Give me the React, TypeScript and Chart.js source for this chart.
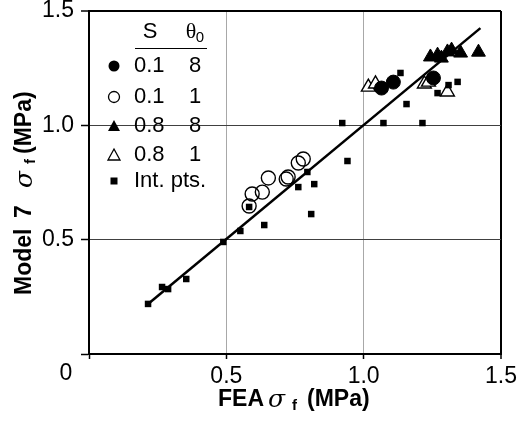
import React, { useEffect, useRef } from "react";
import { Chart, registerables } from "chart.js";
Chart.register(...registerables);

// S = 0.1, theta0 = 8 (filled circles)
const feaS01T8 = [1.065, 1.108, 1.254];
const modS01T8 = [1.163, 1.189, 1.207];
// S = 0.1, theta0 = 1 (open circles)
const feaS01T1 = [0.583, 0.594, 0.631, 0.653, 0.718, 0.725, 0.762, 0.78];
const modS01T1 = [0.647, 0.7, 0.708, 0.77, 0.765, 0.774, 0.835, 0.853];
// S = 0.8, theta0 = 8 (filled triangles)
const feaS08T8 = [1.243, 1.269, 1.283, 1.305, 1.32, 1.353, 1.418];
const modS08T8 = [1.299, 1.307, 1.294, 1.321, 1.329, 1.316, 1.32];
// S = 0.8, theta0 = 1 (open triangles)
const feaS08T1 = [1.017, 1.043, 1.221, 1.236, 1.305];
const modS08T1 = [1.167, 1.181, 1.181, 1.189, 1.146];
// Integration points (small squares)
const feaInt = [0.215, 0.266, 0.288, 0.354, 0.489, 0.551, 0.583, 0.638, 0.762, 0.795, 0.809, 0.82, 0.922, 0.941, 1.072, 1.134, 1.156, 1.214, 1.269, 1.309, 1.342];
const modInt = [0.219, 0.293, 0.284, 0.328, 0.49, 0.538, 0.643, 0.564, 0.73, 0.796, 0.612, 0.743, 1.01, 0.844, 1.01, 1.229, 1.093, 1.01, 1.141, 1.176, 1.19];
// Fit line
const lineX = [0.215, 1.425];
const lineY = [0.219, 1.425];

const xTicks = [0, 0.5, 1.0, 1.5];
const yTicks = [0, 0.5, 1.0, 1.5];

const legendRows = [
  { s: "0.1", t: "8", marker: "fcircle" },
  { s: "0.1", t: "1", marker: "ocircle" },
  { s: "0.8", t: "8", marker: "ftri" },
  { s: "0.8", t: "1", marker: "otri" },
  { s: "Int. pts.", t: "", marker: "square" },
];

const pts = (xs: number[], ys: number[]) => xs.map((x, i) => ({ x, y: ys[i] }));

const SANS = '"Liberation Sans", Arial, sans-serif';
const SERIF = '"DejaVu Serif", "Liberation Serif", serif';

type Part = { text: string; font: string; at: number; dy?: number };
function drawParts(ctx: CanvasRenderingContext2D, parts: Part[], x0: number, y0: number) {
  ctx.textAlign = "left";
  ctx.textBaseline = "middle";
  parts.forEach((p) => {
    ctx.font = p.font;
    ctx.fillText(p.text, x0 + p.at, y0 + (p.dy || 0));
  });
}

function drawMarker(ctx: CanvasRenderingContext2D, kind: string, x: number, y: number) {
  ctx.save();
  ctx.fillStyle = "#000";
  ctx.strokeStyle = "#000";
  ctx.lineWidth = 1.3;
  ctx.beginPath();
  if (kind === "fcircle" || kind === "ocircle") {
    ctx.arc(x, y, 5.5, 0, Math.PI * 2);
    if (kind === "fcircle") ctx.fill();
    else ctx.stroke();
  } else if (kind === "ftri" || kind === "otri") {
    ctx.moveTo(x, y - 6);
    ctx.lineTo(x + 6, y + 5);
    ctx.lineTo(x - 6, y + 5);
    ctx.closePath();
    if (kind === "ftri") ctx.fill();
    else ctx.stroke();
  } else {
    ctx.rect(x - 3.5, y - 3.5, 7, 7);
    ctx.fill();
  }
  ctx.restore();
}

const TITLE = `bold 23px ${SANS}`;
const SIGMA = `italic 25px ${SERIF}`;
const SUB = `bold 15px ${SANS}`;

const overlay = {
  id: "overlay",
  afterDraw(chart: any) {
    const ctx: CanvasRenderingContext2D = chart.ctx;
    ctx.save();
    ctx.fillStyle = "#000";
    // origin "0" label
    ctx.font = `23px ${SANS}`;
    ctx.textAlign = "center";
    ctx.textBaseline = "middle";
    ctx.fillText(String(xTicks[0]), 66, 374);

    // x title
    drawParts(
      ctx,
      [
        { text: "FEA", font: TITLE, at: 0 },
        { text: "σ", font: SIGMA, at: 50 },
        { text: "f", font: SUB, at: 74, dy: 6 },
        { text: "(MPa)", font: TITLE, at: 89 },
      ],
      218,
      400
    );
    // y title
    ctx.save();
    ctx.translate(25, 295);
    ctx.rotate(-Math.PI / 2);
    drawParts(
      ctx,
      [
        { text: "Model", font: TITLE, at: 0 },
        { text: "7", font: TITLE, at: 77 },
        { text: "σ", font: SIGMA, at: 107 },
        { text: "f", font: SUB, at: 131, dy: 6 },
        { text: "(MPa)", font: TITLE, at: 141 },
      ],
      0,
      0
    );
    ctx.restore();

    // legend header
    ctx.font = `22px ${SANS}`;
    ctx.textAlign = "center";
    ctx.textBaseline = "middle";
    ctx.fillText("S", 150, 32);
    ctx.font = `22px "Liberation Serif", serif`;
    ctx.fillText("θ", 191, 32);
    ctx.font = `15px ${SANS}`;
    ctx.fillText("0", 200, 38);
    ctx.strokeStyle = "#000";
    ctx.lineWidth = 1;
    ctx.beginPath();
    ctx.moveTo(135, 48.5);
    ctx.lineTo(207, 48.5);
    ctx.stroke();

    const rowY = [66, 97, 126, 155, 181];
    legendRows.forEach((r, i) => {
      const y = rowY[i];
      drawMarker(ctx, r.marker, 114, y);
      ctx.font = `22px ${SANS}`;
      ctx.textAlign = "left";
      ctx.fillStyle = "#000";
      ctx.fillText(r.s, 134, y);
      if (r.t) {
        ctx.textAlign = "center";
        ctx.fillText(r.t, 195, y);
      }
    });
    ctx.restore();
  },
};

export default function App() {
  const ref = useRef<HTMLCanvasElement>(null);
  useEffect(() => {
    document.body.style.margin = "0";
    const canvas = ref.current!;
    const gridColorX = (c: any) => {
      const v = c.tick ? c.tick.value : 0;
      if (v === 1.5) return "#000";
      if (v === 0) return "rgba(0,0,0,0)";
      return "#a8a8a8";
    };
    const gridColorY = (c: any) => {
      const v = c.tick ? c.tick.value : 0;
      if (v === 1.5) return "#000";
      if (v === 0) return "rgba(0,0,0,0)";
      return "#404040";
    };
    const chart = new Chart(canvas, {
      type: "scatter",
      data: {
        datasets: [
          {
            label: "Int. pts.",
            data: pts(feaInt, modInt),
            pointStyle: "rect",
            radius: 4.6,
            backgroundColor: "#000",
            borderColor: "#000",
            borderWidth: 0,
            order: 0,
          } as any,
          {
            label: "fit",
            data: pts(lineX, lineY),
            showLine: true,
            borderColor: "#000",
            borderWidth: 2.5,
            pointRadius: 0,
            order: 1,
          } as any,
          {
            label: "S=0.1 θ0=8",
            data: pts(feaS01T8, modS01T8),
            pointStyle: "circle",
            radius: 7,
            backgroundColor: "#000",
            borderColor: "#000",
            borderWidth: 1,
            order: 2,
          } as any,
          {
            label: "S=0.1 θ0=1",
            data: pts(feaS01T1, modS01T1),
            pointStyle: "circle",
            radius: 7,
            backgroundColor: "rgba(255,255,255,0)",
            borderColor: "#000",
            borderWidth: 1.4,
            order: 3,
          } as any,
          {
            label: "S=0.8 θ0=8",
            data: pts(feaS08T8, modS08T8),
            pointStyle: "triangle",
            radius: 8,
            backgroundColor: "#000",
            borderColor: "#000",
            borderWidth: 1,
            order: 4,
          } as any,
          {
            label: "S=0.8 θ0=1",
            data: pts(feaS08T1, modS08T1),
            pointStyle: "triangle",
            radius: 8,
            backgroundColor: "#fff",
            borderColor: "#000",
            borderWidth: 1.4,
            order: 5,
          } as any,
        ],
      },
      options: {
        responsive: false,
        animation: false,
        devicePixelRatio: 1,
        layout: { padding: { top: 11, right: 20, left: 0, bottom: 0 } },
        plugins: { legend: { display: false }, tooltip: { enabled: false } },
        scales: {
          x: {
            type: "linear",
            min: 0,
            max: 1.5,
            afterBuildTicks: (s: any) => {
              s.ticks = xTicks.map((v) => ({ value: v }));
            },
            afterFit: (s: any) => {
              s.height = 77;
              s.paddingLeft = 0;
              s.paddingRight = 0;
            },
            ticks: {
              callback: (v: any) => (v === 0 ? "" : Number(v).toFixed(1)),
              color: "#000",
              font: { family: SANS, size: 23 },
              padding: 4,
              maxRotation: 0,
            },
            grid: {
              color: gridColorX,
              lineWidth: (c: any) => (c.tick && c.tick.value === 1.5 ? 2 : 1),
              tickColor: "#000",
              tickLength: 5,
              tickWidth: 1.5,
            },
            border: { color: "#000", width: 2 },
          },
          y: {
            type: "linear",
            min: 0,
            max: 1.5,
            afterBuildTicks: (s: any) => {
              s.ticks = yTicks.map((v) => ({ value: v }));
            },
            afterFit: (s: any) => {
              s.width = 89;
              s.paddingTop = 0;
              s.paddingBottom = 0;
            },
            ticks: {
              callback: (v: any) => (v === 0 ? "" : Number(v).toFixed(1)),
              color: "#000",
              font: { family: SANS, size: 23 },
              padding: 7,
            },
            grid: {
              color: gridColorY,
              lineWidth: (c: any) => (c.tick && c.tick.value === 1.5 ? 2 : 1),
              tickColor: "#000",
              tickLength: 8,
              tickWidth: 1.5,
            },
            border: { color: "#000", width: 2 },
          },
        },
      },
      plugins: [overlay],
    } as any);
    return () => chart.destroy();
  }, []);
  return (
    <div style={{ width: 521, height: 431 }}>
      <canvas ref={ref} width={521} height={431} style={{ display: "block" }} />
    </div>
  );
}
